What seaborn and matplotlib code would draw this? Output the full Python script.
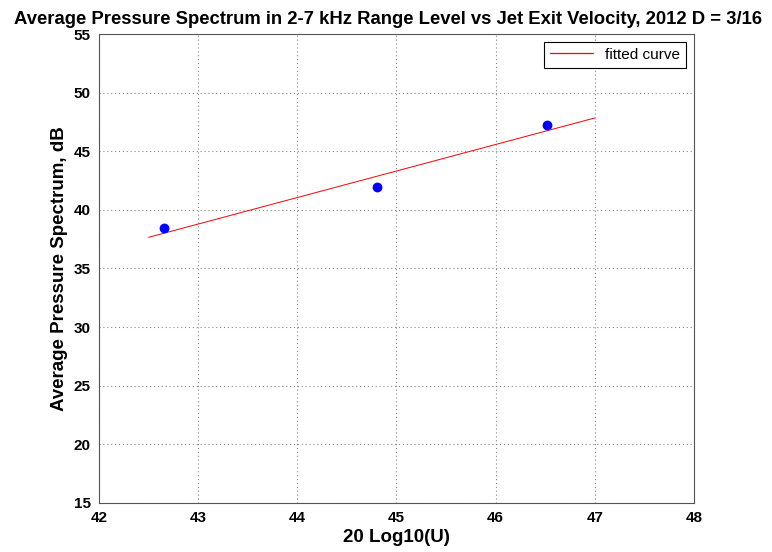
import matplotlib
matplotlib.use("Agg")
import matplotlib.pyplot as plt
import seaborn as sns
import pandas as pd

# Data
meas_x = [42.66, 44.80, 46.52]
meas_y = [38.43, 41.93, 47.27]
fit_x = [42.5, 47.0]
fit_y = [37.66, 47.84]

title = "Average Pressure Spectrum in 2-7 kHz Range Level vs Jet Exit Velocity, 2012 D = 3/16"
xlabel = "20 Log10(U)"
ylabel = "Average Pressure Spectrum, dB"
xticks = [42, 43, 44, 45, 46, 47, 48]
yticks = [15, 20, 25, 30, 35, 40, 45, 50, 55]

sns.set_style("white")
plt.rcParams['font.family'] = ['Liberation Sans', 'DejaVu Sans']
plt.rcParams['text.color'] = 'black'
plt.rcParams['axes.labelcolor'] = 'black'
plt.rcParams['xtick.color'] = 'black'
plt.rcParams['ytick.color'] = 'black'

fig = plt.figure(figsize=(7.72, 5.52), dpi=100)
ax = fig.add_axes([0.1282, 0.0888, 0.7707, 0.8496])

df_m = pd.DataFrame({"x": meas_x, "y": meas_y})
df_f = pd.DataFrame({"x": fit_x, "y": fit_y})

sns.lineplot(data=df_f, x="x", y="y", ax=ax, color="red", linewidth=0.7,
             zorder=3, legend=False)
sns.scatterplot(data=df_m, x="x", y="y", ax=ax, color="blue", s=50,
                edgecolor="blue", linewidth=0, zorder=4, legend=False)

ax.set_xlim(42, 48)
ax.set_ylim(15, 55)
ax.set_xticks(xticks)
ax.set_yticks(yticks)
ax.set_xticklabels([str(t) for t in xticks], fontsize=11, fontweight="bold", color="black")
ax.set_yticklabels([str(t) for t in yticks], fontsize=11, fontweight="bold", color="black")
ax.tick_params(axis="x", direction="in", length=4, width=0.6, color="#555555", pad=6)
ax.tick_params(axis="y", direction="in", length=4, width=0.6, color="#555555", pad=6)
ax.grid(True, linestyle=(0, (1, 2.5)), color="#888888", linewidth=0.8)
for s in ax.spines.values():
    s.set_visible(True)
    s.set_color("#555555")
    s.set_linewidth(0.8)

ax.set_xlabel(xlabel, fontsize=13.5, fontweight="bold", labelpad=3, color="black")
ax.set_ylabel(ylabel, fontsize=13.5, fontweight="bold", labelpad=4, color="black")
ax.set_title(title, fontsize=13.35, fontweight="bold", pad=7.5, x=0.486, color="black")

fit_line = ax.get_lines()[0]
leg = ax.legend(handles=[fit_line], labels=["fitted curve"], loc="upper right",
                fontsize=11, frameon=True, fancybox=False, edgecolor="black",
                framealpha=1, borderaxespad=0.5, handlelength=2.8)
leg.get_frame().set_linewidth(0.8)
for h in leg.get_lines():
    h.set_color("red")
    h.set_linewidth(0.9)
for t in leg.get_texts():
    t.set_color("black")

fig.savefig("out.png", dpi=100)
